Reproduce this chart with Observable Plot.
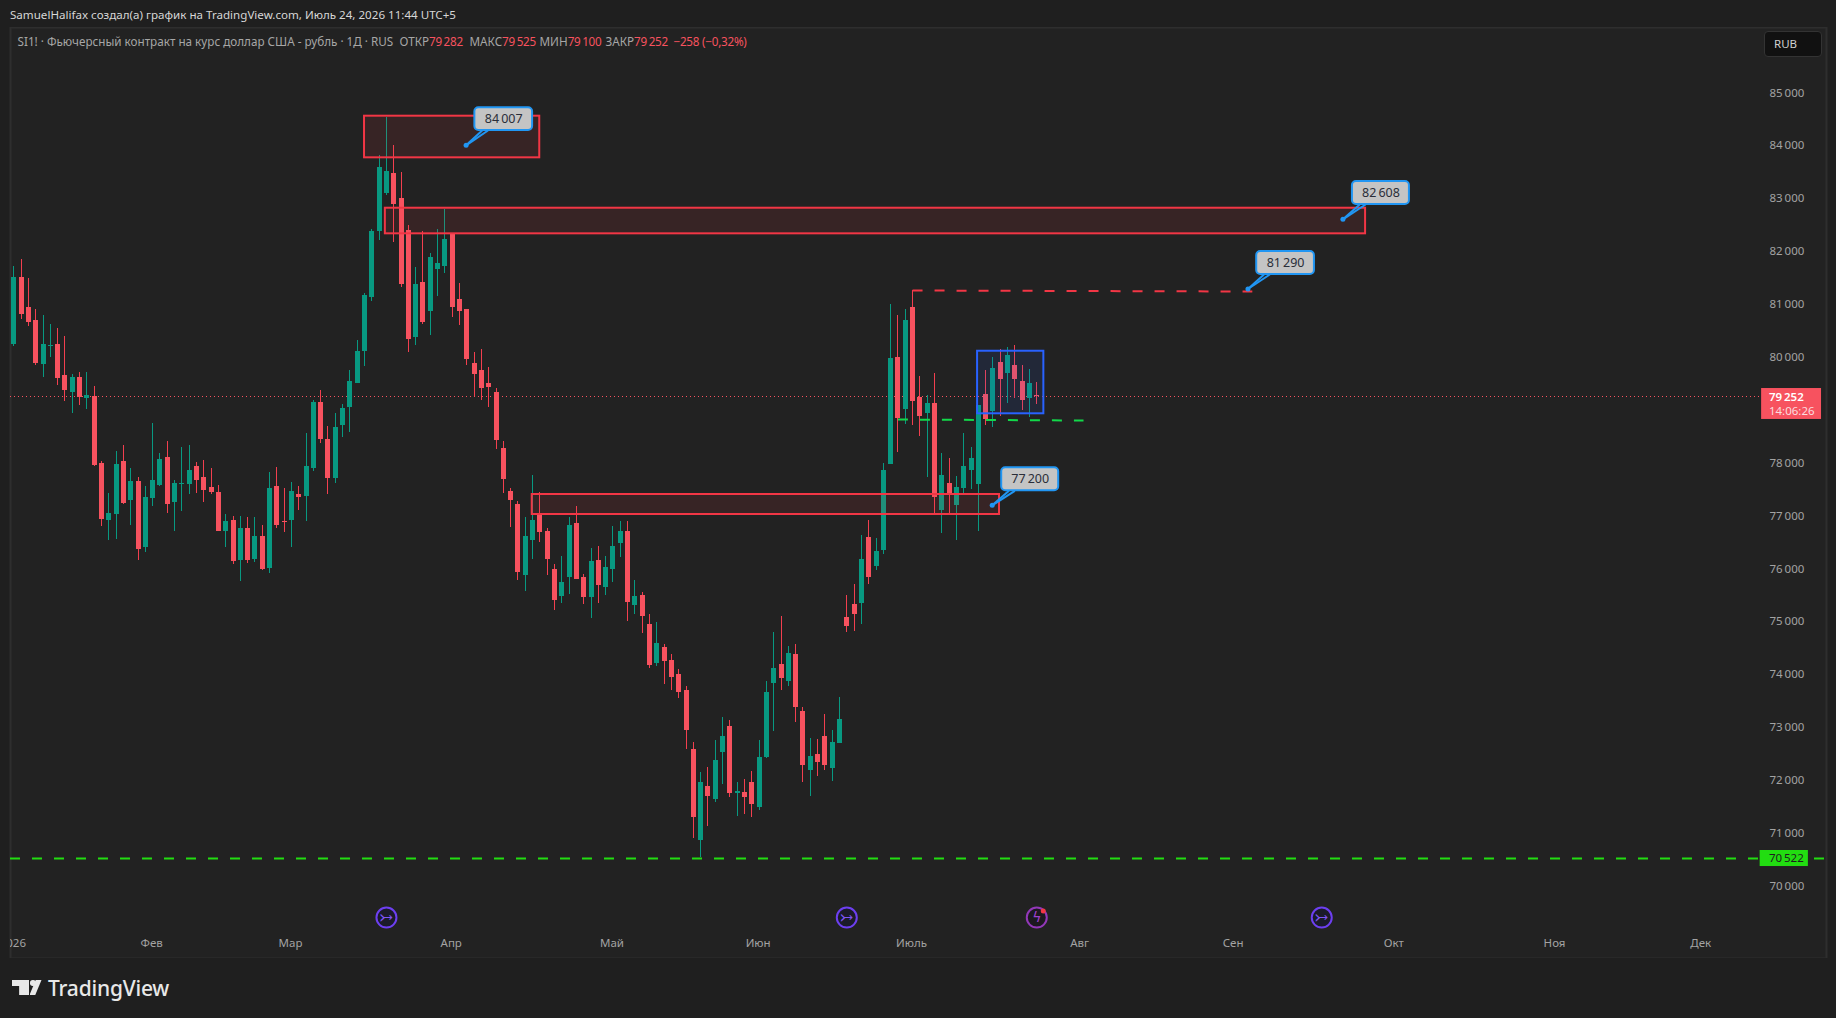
<!DOCTYPE html>
<html lang="ru"><head><meta charset="utf-8">
<script src="https://cdn.jsdelivr.net/npm/d3@7"></script>
<script src="https://cdn.jsdelivr.net/npm/@observablehq/plot@0.6"></script>
<style>
html,body{margin:0;padding:0;background:#1f1f1f;width:1836px;height:1018px;overflow:hidden;font-family:"Noto Sans",sans-serif}
#hdr{position:absolute;left:10px;top:6px;font-size:11.6px;line-height:17px;color:#d6d6d6;white-space:nowrap}
#chart{position:absolute;left:0;top:27px}
#legend{position:absolute;left:17.5px;top:32px;height:18px;font-size:11.7px;line-height:18px;color:#a6a6a6;white-space:nowrap;width:900px}
#legend span{position:absolute;top:0}
#legend b{font-weight:400;color:#f7525f;letter-spacing:-.25px}
#rub{position:absolute;left:1764px;top:31px;width:58px;height:26px;box-sizing:border-box;background:#111;border:1px solid #333;border-radius:4px;color:#d0d0d0;font-size:11.5px;line-height:24px;padding-left:9px}
#logo{position:absolute;left:12px;top:979px;height:22px}
#logo i{position:absolute;background:#e8e8e8;display:block}
#logo .t{left:0;top:1px;width:17px;height:15px;clip-path:polygon(0 0,100% 0,100% 100%,42% 100%,42% 40%,0 40%)}
#logo .c{left:18px;top:1px;width:5.5px;height:5.5px;border-radius:50%}
#logo .s{left:17.5px;top:1px;width:12px;height:15px;clip-path:polygon(52% 0,100% 0,48% 100%,0 100%)}
#logo span{position:absolute;left:36px;top:-5px;font-size:21px;font-weight:500;color:#e8e8e8;letter-spacing:-.2px;line-height:28px}
</style></head><body>
<div id="hdr">SamuelHalifax создал(а) график на TradingView.com, Июль 24, 2026 11:44 UTC+5</div>
<div id="chart"></div>
<div id="legend"><span style="left:0">SI1! · Фьючерсный контракт на курс доллар США - рубль · 1Д · RUS</span><span style="left:382px">ОТКР<b>79&#8201;282</b></span><span style="left:452px">МАКС<b>79&#8201;525</b></span><span style="left:522px">МИН<b>79&#8201;100</b></span><span style="left:588px">ЗАКР<b>79&#8201;252</b></span><span style="left:656px"><b>−258 (−0,32%)</b></span></div>
<div id="rub">RUB</div>
<div id="logo"><i class="t"></i><i class="c"></i><i class="s"></i><span>TradingView</span></div>
<script>
const opens=[80241,81508,80940,80695,79863,80203,80241,79655,79333,79617,
79220,79258,77991,76913,77027,78029,77291,77651,76403,77329,
77575,78104,77254,77594,77594,77934,77726,77537,77443,76705,
76913,76157,76762,76176,76611,76006,77556,76895,76913,77405,
77367,77897,79145,78445,77708,78710,79050,79504,80109,81130,
82377,83096,83474,83001,82396,80373,81413,80865,81659,81716,
82340,81092,80903,79882,79749,79504,79334,78275,77462,77217,
75874,76536,77046,76706,75988,75477,75836,76857,75836,75458,
76158,75647,75988,76479,76706,75307,75496,74947,74210,74512,
74267,74002,73699,72584,70864,71884,71639,72527,73019,71752,
71771,71960,71487,72433,73832,74191,73870,74380,73302,72187,
72489,72830,72225,72697,75080,75325,75344,76592,76044,76346,
77972,79995,79012,80940,79239,78936,79126,77103,77613,77197,
77518,77859,77594,79296,78974,79901,79693,79844,79541,79220,79282];
const closes=[81508,80808,80657,79882,80241,80216,79598,79371,79617,79239,
79277,77953,76932,77046,77972,77235,77651,76365,77348,77670,
78067,77216,77613,77613,77859,77670,77481,77443,76705,76895,
76138,76762,76157,76611,75987,77518,76819,76876,77462,77348,
77935,79145,78445,77708,78672,79031,79542,80109,81167,82377,
83587,83512,82888,81375,80335,81375,80657,81886,81772,82226,
80940,80865,79957,79674,79409,79428,78427,77689,77292,75931,
76612,76914,76687,76177,75402,75742,76820,75799,75458,76139,
75685,76026,76423,76706,75364,75477,75099,74172,74588,74248,
73945,73662,72943,71298,71960,71695,72376,72830,71752,71790,
71677,71544,72433,73662,74115,73926,74399,73378,72281,72452,
72338,72281,72716,73151,74909,75136,76176,75836,76327,77859,
79976,78842,80695,79163,78880,79126,77348,77764,77405,77537,
77934,78086,79088,78823,79787,79579,80033,79579,79182,79504,79252];
const highs=[81716,81848,81489,80903,80789,80619,80543,80392,79674,79711,
79711,79447,78029,77424,78218,78331,77896,77726,77556,78747,
78180,78407,77670,78294,78331,78010,78048,77896,77575,77027,
76989,76989,76970,76970,76819,77821,77915,77518,77632,77556,
78559,79182,79372,78691,78937,79107,79750,80317,81205,82415,
83814,84533,84003,83493,82491,81697,82377,81961,82415,82793,
82340,81394,80903,80090,80146,79806,79410,78408,77519,77273,
76971,77765,77443,76763,76082,76233,76971,77179,75893,76385,
76423,76233,76801,76895,76895,75780,75553,75136,74985,74569,
74380,74096,73775,72716,72149,72244,72754,73189,73132,71960,
72017,72168,72754,73870,74796,75098,74531,74569,73378,72792,
72773,73246,72943,73567,75496,75704,76630,76913,76573,77991,
80997,80789,80903,81262,79636,79277,79693,78180,78086,77745,
78558,78294,79088,79749,79995,80146,80184,80222,79844,79768,79525];
const lows=[80203,80713,80581,79844,79617,79995,79466,79163,78936,79088,
79012,77934,76800,76535,76554,77216,76819,76157,76308,77178,
77556,77046,76705,77083,77405,77424,77254,77405,76705,76403,
76081,75760,76100,76119,75968,75911,76762,76687,76403,77102,
76900,77840,78370,77405,77613,78483,78577,79504,79825,81054,
82207,83058,82169,81319,80090,80222,80619,80411,81148,81583,
80751,80600,79844,79258,79182,79050,78256,77425,76782,75780,
75572,76177,76498,75874,75213,75345,75515,75799,75326,75061,
75345,75496,75742,76215,75005,75137,74777,74115,74153,73813,
73699,73548,72584,70901,70540,71128,71582,71922,71677,71317,
71355,71298,71431,72414,72924,73699,73775,73094,71960,71695,
72073,72187,71979,72697,74796,74815,74947,75704,75968,76271,
77972,78199,78728,78710,78502,77726,77040,76668,77040,76535,
77418,77500,76706,78710,78672,78880,79126,79220,78993,78861,79100];

const priceTicks=[70000,71000,72000,73000,74000,75000,76000,77000,78000,80000,81000,82000,83000,84000,85000];
const monthIdx=[0,19,38,60,82,102,123,146,167,189,211,231];
const monthNames=["2026","Фев","Мар","Апр","Май","Июн","Июль","Авг","Сен","Окт","Ноя","Дек"];

const zoneNames=["a","b","c"];
const zoneX1=[48,50.85,70.95];
const zoneX2=[71.98,185,134.9];
const zoneTop=[84558,82818,77405];
const zoneBottom=[83771,82334,77027];
const boxX=[131.9,140.97];
const boxY=[80114,78931];

const calloutPrice=[84007,82608,81290,77200];
const calloutDot=[61.9,181.9,168.9,133.9];
const calloutLeft=[63.1,183.2,170.1,135.2];
const calloutRight=[71,191,178,143];
const calloutTop=[84716,83323,82000,77910];
const calloutBottom=[84287,82888,81565,77475];

const closePrice=79252, supportPrice=70522;
const eventIdx=[51,114,179], alertIdx=[140], eventPrice=69407;

const GREEN="#089981",RED="#f7525f",WICKRED="#f23f4f",ZONE="#f23645",CALL="#2196f3",LIME="#22dd11";
const fmt=d=>d3.format(",")(d).replace(/,/g,"\u2009");

const bars=opens.map((o,i)=>({i,o,c:closes[i],h:highs[i],l:lows[i]}));
const up=d=>d.c>=d.o;
const zones=zoneNames.map((n,k)=>({x1:zoneX1[k],x2:zoneX2[k],y1:zoneTop[k],y2:zoneBottom[k]}));
const callouts=calloutPrice.map((p,k)=>({p,dx:calloutDot[k],x1:calloutLeft[k],x2:calloutRight[k],y1:calloutTop[k],y2:calloutBottom[k]}));
const font='"Noto Sans",sans-serif';

const plot=Plot.plot({
 width:1836,height:931,marginLeft:10,marginRight:10,marginTop:0,marginBottom:0,
 style:{background:"transparent",fontFamily:font,fontSize:"11.5px"},
 x:{type:"linear",domain:[-0.452,248.08],range:[10,1826],label:null},
 y:{type:"linear",domain:[68632,86235],range:[931,0],label:null},
 marks:[
  Plot.frame({fill:"#222222",stroke:"#2e2e2e",strokeWidth:2}),
  Plot.axisY({anchor:"right",ticks:priceTicks,tickFormat:fmt,tickSize:0,tickPadding:-57,textAnchor:"start",color:"#a3a3a3",label:null}),
  Plot.axisX({anchor:"bottom",ticks:monthIdx,tickFormat:i=>monthNames[monthIdx.indexOf(i)],tickSize:0,tickPadding:-20,dx:-1,color:"#a3a3a3",label:null,clip:"frame"}),
  Plot.ruleY([closePrice],{x1:-0.452,x2:239.2,stroke:RED,strokeWidth:1,strokeDasharray:"1,3",shapeRendering:"crispEdges"}),
  Plot.ruleX(bars,{x:"i",y1:"l",y2:"h",stroke:d=>up(d)?GREEN:WICKRED,strokeWidth:1,shapeRendering:"crispEdges"}),
  Plot.ruleX(bars,{x:"i",y1:"o",y2:"c",stroke:d=>up(d)?GREEN:RED,strokeWidth:5,shapeRendering:"crispEdges"}),
  Plot.rect(zones,{x1:"x1",x2:"x2",y1:"y1",y2:"y2",fill:ZONE,fillOpacity:0.1,stroke:ZONE,strokeWidth:2}),
  Plot.rect([{x1:boxX[0],x2:boxX[1],y1:boxY[0],y2:boxY[1]}],{x1:"x1",x2:"x2",y1:"y1",y2:"y2",fill:"#2962ff",fillOpacity:0.1,stroke:"#2962ff",strokeWidth:2}),
  Plot.ruleY([supportPrice],{x1:-0.452,x2:248.08,stroke:LIME,strokeWidth:2,strokeDasharray:"10,12"}),
  Plot.link([{x1:121,x2:146.4,y1:78823,y2:78804}],{x1:"x1",x2:"x2",y1:"y1",y2:"y2",stroke:"#12d94a",strokeWidth:2,strokeDasharray:"10,12"}),
  Plot.link([{x1:123,x2:169.5,y1:81262,y2:81243}],{x1:"x1",x2:"x2",y1:"y1",y2:"y2",stroke:ZONE,strokeWidth:2,strokeDasharray:"10,12"}),
  Plot.rect([{x1:239.2,x2:247.4,y1:79409,y2:78824}],{x1:"x1",x2:"x2",y1:"y1",y2:"y2",fill:RED}),
  Plot.text([{x:240.2,y:closePrice}],{x:"x",y:"y",text:()=>fmt(closePrice),fill:"#fff",textAnchor:"start",fontWeight:600}),
  Plot.text([{x:240.2,y:78984}],{x:"x",y:"y",text:()=>"14:06:26",fill:"#fbdcdf",textAnchor:"start"}),
  Plot.rect([{x1:239,x2:245.6,y1:70674,y2:70371}],{x1:"x1",x2:"x2",y1:"y1",y2:"y2",fill:LIME}),
  Plot.text([{x:240.2,y:supportPrice}],{x:"x",y:"y",text:()=>fmt(supportPrice),fill:"#1d1d1d",textAnchor:"start"}),
  Plot.dot(eventIdx,{x:d=>d,y:()=>eventPrice,r:10,stroke:"#6d3ff0",strokeWidth:2,fill:"#1b1b2a"}),
  Plot.text(eventIdx,{x:d=>d,y:()=>eventPrice,text:()=>"›",dx:-4,fill:"#7f55f5",fontSize:17,fontFamily:"DejaVu Sans"}),
  Plot.text(eventIdx,{x:d=>d,y:()=>eventPrice,text:()=>"→",dx:1,fill:"#7f55f5",fontSize:12,fontFamily:"DejaVu Sans"}),
  Plot.dot(alertIdx,{x:d=>d,y:()=>eventPrice,r:10,stroke:"#9238b8",strokeWidth:2,fill:"#1d1820"}),
  Plot.text(alertIdx,{x:d=>d,y:()=>eventPrice,text:()=>"ϟ",fill:"#a040d0",fontSize:14,fontFamily:"DejaVu Sans"}),
  Plot.dot(alertIdx,{x:d=>d,y:()=>eventPrice,r:2.5,dx:6.5,dy:-6.5,fill:"#f23645"}),
  Plot.link(callouts,{x1:"dx",y1:"p",x2:d=>d.x1+1,y2:"y2",stroke:CALL,strokeWidth:2}),
  Plot.link(callouts,{x1:"dx",y1:"p",x2:d=>d.x1+1.8,y2:"y2",stroke:CALL,strokeWidth:2}),
  Plot.dot(callouts,{x:"dx",y:"p",r:2.5,fill:CALL}),
  Plot.rect(callouts,{x1:"x1",x2:"x2",y1:"y1",y2:"y2",fill:"#c4c4c4",stroke:CALL,strokeWidth:2,rx:4}),
  Plot.text(callouts,{x:d=>(d.x1+d.x2)/2,y:d=>(d.y1+d.y2)/2,text:d=>fmt(d.p),fill:"#2a2e39",fontSize:12.5})
 ]
});
document.getElementById("chart").append(plot);
</script>
</body></html>
